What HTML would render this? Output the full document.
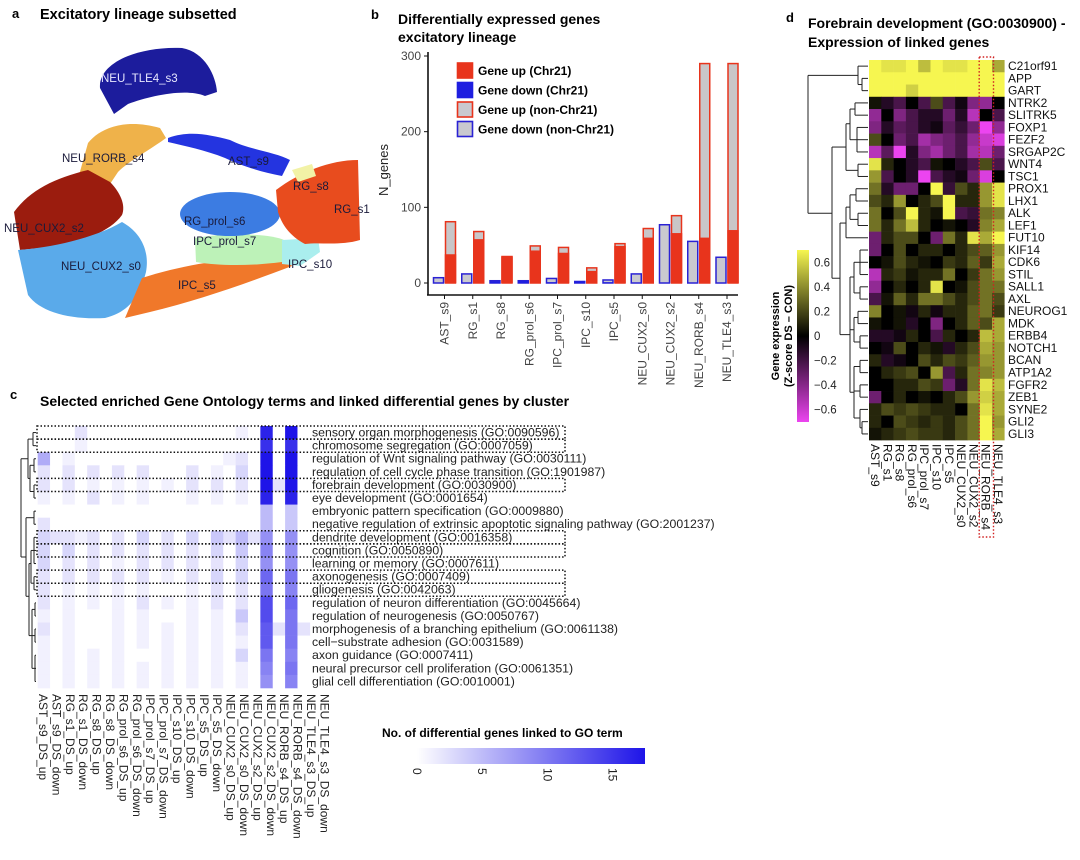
<!DOCTYPE html>
<html><head><meta charset="utf-8"><style>
html,body{margin:0;padding:0;background:#fff;}
svg{display:block;font-family:"Liberation Sans",sans-serif;}
</style></head><body>
<svg id="fig" width="1080" height="860" viewBox="0 0 1080 860">
<!-- Panel a -->
<g>
<text x="12" y="18" font-size="13" font-weight="bold">a</text>
<text x="40" y="19" font-size="14.5" font-weight="bold">Excitatory lineage subsetted</text>
<path d="M100,88 C98,62 140,46 182,48 C205,52 216,76 217,92 L205,96 C185,88 150,96 128,104 L114,114 Z" fill="#1c1c9c"/>
<path d="M88,143 C100,128 125,118 160,128 L166,138 C150,150 130,160 118,172 L102,196 L76,186 Z" fill="#efb24a"/>
<path d="M14,212 C30,190 55,178 88,170 L110,182 C120,192 126,205 122,215 C110,232 80,242 60,246 L20,250 Z" fill="#9b1c0e"/>
<path d="M18,250 C50,248 95,238 122,222 C140,232 150,250 146,272 C140,295 130,312 105,318 C70,320 40,312 28,295 Z" fill="#5aaaea"/>
<path d="M142,278 C190,262 250,256 285,255 L292,266 C250,282 200,300 150,312 L125,318 Z" fill="#f0782a"/>
<path d="M195,238 C230,232 270,234 284,240 L282,262 C250,266 220,266 196,262 Z" fill="#bdf2b8"/>
<path d="M282,240 L318,238 L320,252 L300,266 L282,264 Z" fill="#aaeeee"/>
<ellipse cx="230" cy="214" rx="50" ry="22" fill="#3c7ce2"/>
<path d="M276,190 C300,172 330,160 358,160 L360,240 C340,246 320,242 305,244 C290,236 282,225 278,212 Z" fill="#e84c1e"/>
<path d="M292,170 L312,164 L316,176 L298,182 Z" fill="#f2f2a6"/>
<path d="M168,138 C190,130 210,135 230,140 C250,150 275,152 290,160 L282,176 C260,172 240,165 225,158 C205,150 185,146 168,142 Z" fill="#2434e0"/>
<g font-size="11.5" fill="#1a1a3a">
<text x="101" y="82" fill="#e8e8ff">NEU_TLE4_s3</text>
<text x="62" y="162">NEU_RORB_s4</text>
<text x="228" y="165">AST_s9</text>
<text x="293" y="190">RG_s8</text>
<text x="334" y="213">RG_s1</text>
<text x="4" y="232">NEU_CUX2_s2</text>
<text x="184" y="225">RG_prol_s6</text>
<text x="193" y="245">IPC_prol_s7</text>
<text x="61" y="270">NEU_CUX2_s0</text>
<text x="288" y="268">IPC_s10</text>
<text x="178" y="289">IPC_s5</text>
</g>
</g>

<!-- Panel b -->
<g id="pb">
<text x="371" y="19" font-size="13" font-weight="bold">b</text>
<text x="398" y="24" font-size="14" font-weight="bold">Differentially expressed genes</text>
<text x="398" y="42" font-size="14" font-weight="bold">excitatory lineage</text>
<text transform="translate(388,170) rotate(-90)" text-anchor="middle" font-size="13" fill="#222">N_genes</text>
</g>

<!-- Panel c -->
<g id="pc">
<text x="10" y="399" font-size="13" font-weight="bold">c</text>
<text x="40" y="406" font-size="14" font-weight="bold">Selected enriched Gene Ontology terms and linked differential genes by cluster</text>
<text x="382" y="737" font-size="12" font-weight="bold">No. of differential genes linked to GO term</text>
<defs><linearGradient id="bg1" x1="0" x2="1"><stop offset="0" stop-color="#ffffff"/><stop offset="1" stop-color="#1e14e8"/></linearGradient></defs>
<rect x="417" y="748" width="228" height="16" fill="url(#bg1)"/>
</g>

<!-- Panel d -->
<g id="pd">
<text x="786" y="22" font-size="13" font-weight="bold">d</text>
<text x="808" y="28" font-size="14" font-weight="bold">Forebrain development (GO:0030900) -</text>
<text x="808" y="47" font-size="14" font-weight="bold">Expression of linked genes</text>
<defs><linearGradient id="dg" x1="0" x2="0" y1="0" y2="1"><stop offset="0" stop-color="#f6f650"/><stop offset="0.5" stop-color="#000000"/><stop offset="1" stop-color="#ec44f0"/></linearGradient></defs>
<rect x="797" y="250" width="12" height="172" fill="url(#dg)"/>
<text transform="translate(779,336) rotate(-90)" text-anchor="middle" font-size="11" font-weight="bold">Gene expression</text>
<text transform="translate(792,336) rotate(-90)" text-anchor="middle" font-size="11" font-weight="bold">(Z-score DS – CON)</text>
</g>
</svg>
<script>
const NS="http://www.w3.org/2000/svg";
function mk(parent,tag,attrs,txt){const e=document.createElementNS(NS,tag);for(const k in attrs)e.setAttribute(k,attrs[k]);if(txt!==undefined)e.textContent=txt;parent.appendChild(e);return e;}

// ---------- Panel b data ----------
const bCats=["AST_s9","RG_s1","RG_s8","RG_prol_s6","IPC_prol_s7","IPC_s10","IPC_s5","NEU_CUX2_s0","NEU_CUX2_s2","NEU_RORB_s4","NEU_TLE4_s3"];
const upChr21=[38,58,35,43,40,16,49,60,66,60,70];
const upTotal=[81,68,35,49,47,20,52,72,89,290,290];
const downChr21=[0,0,2,3,1,2,1,0,0,0,0];
const downTotal=[7,12,3,3,6,2,4,12,77,55,34];
const bTicks=[0,100,200,300];
const legendLabels=["Gene up (Chr21)","Gene down (Chr21)","Gene up (non-Chr21)","Gene down (non-Chr21)"];

// ---------- Panel c data ----------
const goTerms=["sensory organ morphogenesis (GO:0090596)","chromosome segregation (GO:0007059)","regulation of Wnt signaling pathway (GO:0030111)","regulation of cell cycle phase transition (GO:1901987)","forebrain development (GO:0030900)","eye development (GO:0001654)","embryonic pattern specification (GO:0009880)","negative regulation of extrinsic apoptotic signaling pathway (GO:2001237)","dendrite development (GO:0016358)","cognition (GO:0050890)","learning or memory (GO:0007611)","axonogenesis (GO:0007409)","gliogenesis (GO:0042063)","regulation of neuron differentiation (GO:0045664)","regulation of neurogenesis (GO:0050767)","morphogenesis of a branching epithelium (GO:0061138)","cell\u2212substrate adhesion (GO:0031589)","axon guidance (GO:0007411)","neural precursor cell proliferation (GO:0061351)","glial cell differentiation (GO:0010001)"];
const goCols=["AST_s9_DS_up","AST_s9_DS_down","RG_s1_DS_up","RG_s1_DS_down","RG_s8_DS_up","RG_s8_DS_down","RG_prol_s6_DS_up","RG_prol_s6_DS_down","IPC_prol_s7_DS_up","IPC_prol_s7_DS_down","IPC_s10_DS_up","IPC_s10_DS_down","IPC_s5_DS_up","IPC_s5_DS_down","NEU_CUX2_s0_DS_up","NEU_CUX2_s0_DS_down","NEU_CUX2_s2_DS_up","NEU_CUX2_s2_DS_down","NEU_RORB_s4_DS_up","NEU_RORB_s4_DS_down","NEU_TLE4_s3_DS_up","NEU_TLE4_s3_DS_down"];
const goCounts=[
[0,0,0,2,0,0,0,0,0,0,0,0,0,0,0,0,1,0,16,0,17,0],
[0,0,0,1,0,0,0,0,0,0,0,0,0,0,0,0,0,0,15,0,15,0],
[6,0,1,0,0,0,0,0,0,0,0,0,0,0,0,1,2,0,17,0,17,0],
[2,0,2,0,2,0,2,0,2,0,0,0,2,0,1,0,3,0,17,0,17,0],
[2,0,2,0,1,0,1,0,1,0,1,0,2,0,2,0,2,0,17,2,17,0],
[1,0,1,0,2,0,1,0,1,0,0,0,1,0,1,0,1,0,16,0,16,0],
[0,0,0,0,0,0,0,0,0,0,0,0,0,0,0,0,0,0,5,0,4,0],
[2,0,0,0,0,0,0,0,0,0,0,0,0,0,0,0,0,0,5,0,4,0],
[3,2,2,1,2,0,2,0,3,0,2,0,3,0,4,2,5,2,8,0,8,0],
[3,0,3,0,2,0,2,0,2,0,2,0,2,0,3,0,4,0,9,0,8,0],
[3,0,2,0,2,0,1,0,2,0,2,0,2,0,2,0,3,0,8,0,8,0],
[2,0,2,0,2,0,2,0,2,0,1,0,2,0,3,0,3,0,11,0,10,0],
[2,0,1,0,1,0,1,0,1,0,0,0,1,0,2,0,2,0,10,0,9,0],
[2,0,1,0,1,0,1,0,2,0,1,0,1,0,2,0,2,0,13,0,11,0],
[1,0,1,0,0,0,1,0,1,0,0,0,1,0,1,0,4,0,13,0,10,0],
[2,0,1,0,0,0,1,0,1,0,1,0,1,0,1,0,2,0,12,2,10,2],
[1,0,1,0,0,0,1,0,1,0,1,0,1,0,1,0,1,0,12,0,10,0],
[1,0,1,0,1,0,1,0,0,0,1,0,1,0,1,0,3,0,10,0,9,0],
[1,0,1,0,1,0,1,0,1,0,1,0,1,0,1,0,1,0,9,0,10,0],
[1,0,1,0,1,0,1,0,1,0,1,0,1,0,1,0,1,0,8,0,9,0]];
const boxedRows=[0,1,4,8,9,11,12];
const goLegendTicks=[0,5,10,15];

// ---------- Panel d data ----------
const dGenes=["C21orf91","APP","GART","NTRK2","SLITRK5","FOXP1","FEZF2","SRGAP2C","WNT4","TSC1","PROX1","LHX1","ALK","LEF1","FUT10","KIF14","CDK6","STIL","SALL1","AXL","NEUROG1","MDK","ERBB4","NOTCH1","BCAN","ATP1A2","FGFR2","ZEB1","SYNE2","GLI2","GLI3"];
const dCols=["AST_s9","RG_s1","RG_s8","RG_prol_s6","IPC_prol_s7","IPC_s10","IPC_s5","NEU_CUX2_s0","NEU_CUX2_s2","NEU_RORB_s4","NEU_TLE4_s3"];
const dZ=[
[0.65,0.6,0.6,0.65,0.5,0.65,0.6,0.6,0.65,0.7,0.45],
[0.7,0.7,0.7,0.7,0.7,0.7,0.7,0.7,0.7,0.7,0.7],
[0.7,0.7,0.7,0.55,0.7,0.7,0.7,0.7,0.7,0.7,0.7],
[0.05,-0.1,-0.2,0,-0.2,0.2,-0.2,-0.05,-0.35,-0.4,0],
[-0.4,0,-0.35,-0.2,-0.1,-0.1,-0.3,-0.1,-0.5,0,-0.2],
[-0.35,-0.1,-0.25,-0.2,-0.1,-0.05,-0.25,-0.15,-0.3,-0.65,-0.4],
[0.2,0,-0.3,-0.2,-0.45,-0.35,-0.3,-0.2,-0.4,-0.55,-0.6],
[-0.5,-0.25,-0.65,-0.1,-0.35,-0.45,-0.3,-0.2,-0.45,-0.5,-0.3],
[0.6,0.1,0,-0.1,-0.2,0.05,0,-0.1,-0.2,0.2,-0.2],
[0.4,-0.2,0,-0.1,-0.7,-0.2,-0.1,-0.05,-0.3,-0.6,0],
[0.3,-0.1,-0.3,-0.3,0,0.7,-0.15,0.2,0.1,0.4,0.6],
[0.2,0.1,0.4,0,0.1,0.2,0.7,0.1,0.1,0.4,0.6],
[0.3,0,0.2,0.7,0.1,0.05,0.7,-0.2,-0.15,0.3,0.35],
[0.3,0.1,0.3,0.5,0.1,0,0.05,0,-0.1,0.35,0.45],
[-0.3,0.1,0.2,0.2,0,-0.3,0.3,0.1,0.6,0.45,0.65],
[-0.3,0,0.2,0,0.1,0.1,0,0.1,0.2,0.25,0.4],
[0,0.05,0.2,0.1,0.05,0,0.15,0.1,0.25,0.15,0.45],
[-0.5,0.1,0.15,0.05,0.1,0.1,0.3,0,0.15,0.3,0.4],
[-0.4,0,0.1,0,0.1,0.6,0,0.05,0.2,0.3,0.3],
[-0.2,0.05,0.25,0.1,0.3,0.3,0.2,0.1,0.2,0.3,0.2],
[0.35,0,0.05,-0.05,0.1,-0.05,0.1,0.1,0.25,0.3,0.15],
[0.05,0,0.05,-0.1,0,-0.35,0,0.1,0.25,0.2,0.45],
[-0.1,-0.1,-0.05,0.1,0,-0.2,0.1,0,0.1,0.5,0.45],
[0,-0.05,0.2,0,0.1,0.05,-0.1,0.1,0.2,0.45,0.4],
[0.1,-0.1,-0.05,0,0.2,0.1,0.2,0.15,0.25,0.4,0.4],
[0,0.1,0.15,0.2,0,0.4,-0.2,0.1,0.3,0.35,0.4],
[0,0,0.1,0.1,0.2,0.15,-0.3,-0.1,0.3,0.6,0.5],
[-0.3,0,0.1,0,0.05,0,0.1,0.2,0.4,0.55,0.45],
[0.1,0.2,0.15,0.2,0.15,0.1,0.1,0,0.3,0.6,0.45],
[0.1,0,0.2,0.15,0.1,0.15,0.1,0.2,0.3,0.65,0.4],
[0.05,0.1,0.15,0.2,0.15,0.15,0.1,0.2,0.3,0.65,0.45]];
const dTicks=[0.6,0.4,0.2,0,-0.2,-0.4,-0.6];

// ===== Draw panel b =====
(function(){
const g=document.getElementById('pb');
const y0=283,yPer=227/300; const yS=v=>y0-v*yPer;
const cx0=444.5,step=28.25; const xS=i=>cx0+i*step;
const bw=10;
mk(g,'line',{x1:428,y1:52,x2:428,y2:295,stroke:'#111','stroke-width':1.6});
mk(g,'line',{x1:427,y1:295,x2:738,y2:295,stroke:'#111','stroke-width':1.6});
bTicks.forEach(t=>{
 const tk=mk(g,'line',{x1:424,x2:428,y1:yS(t),y2:yS(t),stroke:'#111'});
 
 
 const tl=mk(g,'text',{x:421,y:yS(t)+4,'text-anchor':'end','font-size':12,fill:'#444'},t);
 
 
});
bCats.forEach((c,i)=>{
 const cx=xS(i);
 const dT=mk(g,'rect',{x:cx-bw-1,y:yS(downTotal[i]),width:bw,height:Math.max(0.5,yS(0)-yS(downTotal[i])),fill:'#c9c9cf',stroke:'#2a22d4','stroke-width':1.5});
 
 
 if(downChr21[i]>0){const dc=mk(g,'rect',{x:cx-bw-1,y:yS(downChr21[i]),width:bw,height:yS(0)-yS(downChr21[i]),fill:'#1e1ee0'});
 
 }
 const uT=mk(g,'rect',{x:cx+1,y:yS(upTotal[i]),width:bw,height:yS(0)-yS(upTotal[i]),fill:'#c9c6c8',stroke:'#e8341c','stroke-width':1.5});
 
 
 const uc=mk(g,'rect',{x:cx+0.25,y:yS(upChr21[i]),width:bw+1.5,height:yS(0)-yS(upChr21[i]),fill:'#e8341c'});
 
 
 const tk=mk(g,'line',{x1:cx,x2:cx,y1:295,y2:299,stroke:'#111'});
 
 
 const lb=mk(g,'text',{transform:`translate(${cx+4},302) rotate(-90)`,'text-anchor':'end','font-size':12,fill:'#444'},c);
 
 
});
const lf=[['#e8341c','#e8341c'],['#1e1ee0','#1e1ee0'],['#c9c9cf','#e8341c'],['#c9c9cf','#2a22d4']];
legendLabels.forEach((l,i)=>{
 const y=63+i*19.5;
 const sw=mk(g,'rect',{x:457.5,y:y,width:15,height:15,fill:lf[i][0],stroke:lf[i][1],'stroke-width':1.6});
 
 
 const t=mk(g,'text',{x:478,y:y+12,'font-size':12,'font-weight':'bold'},l);
 
 
});
})();

// ===== Draw panel c =====
(function(){
const g=document.getElementById('pc');
const x0=37.7,cw=12.37,y0=426,rh=13.1,maxV=17;
const col=v=>{const t=Math.min(1,v/maxV);const r=Math.round(255+(30-255)*t),gg=Math.round(255+(20-255)*t),b=Math.round(255+(232-255)*t);return `rgb(${r},${gg},${b})`;};
goCounts.forEach((row,r)=>{
 row.forEach((v,c)=>{
  const cell=mk(g,'rect',{x:x0+c*cw,y:y0+r*rh,width:cw+0.3,height:rh+0.3,fill:col(v)});
  
  
 });
 const t=mk(g,'text',{x:312,y:y0+r*rh+10.5,'font-size':12.3,fill:'#222'},goTerms[r]);
 
 
});
boxedRows.forEach(r=>{
 const b=mk(g,'rect',{x:37,y:y0+r*rh,width:528,height:rh,fill:'none',stroke:'#111','stroke-width':1.5,'stroke-dasharray':'1.5,2'});
 
 
});
goCols.forEach((c,i)=>{
 const t=mk(g,'text',{transform:`translate(${39+i*13.4},694) rotate(90)`,'font-size':12,fill:'#222'},c);
 
 
});
goLegendTicks.forEach(v=>{
 const x=417+v/17.5*228;
 const t=mk(g,'text',{transform:`translate(${x-4},768) rotate(90)`,'font-size':12,fill:'#222'},v);
 
 
});
// dendrogram
const rc=r=>y0+r*rh+rh/2;
const segs=[[36,rc(0),33,rc(0)],[33,rc(0),33,rc(1)],[36,rc(1),33,rc(1)],
[36,rc(2),34,rc(2)],[34,rc(2),34,rc(3)],[36,rc(3),34,rc(3)],[36,rc(4),34,rc(4)],[34,rc(4),34,rc(5)],[36,rc(5),34,rc(5)],
[34,rc(2.5),30,rc(2.5)],[34,rc(4.5),30,rc(4.5)],[30,rc(2.5),30,rc(4.5)],[33,rc(0.5),28,rc(0.5)],[30,rc(3.5),28,rc(3.5)],[28,rc(0.5),28,rc(3.5)],
[36,rc(6),34,rc(6)],[34,rc(6),34,rc(7)],[36,rc(7),34,rc(7)],
[36,rc(8),34,rc(8)],[34,rc(8),34,rc(10)],[36,rc(10),34,rc(10)],[36,rc(9),34,rc(9)],
[36,rc(11),34,rc(11)],[34,rc(11),34,rc(12)],[36,rc(12),34,rc(12)],
[36,rc(13),35,rc(13)],[35,rc(13),35,rc(14)],[36,rc(14),35,rc(14)],
[36,rc(15),35,rc(15)],[35,rc(15),35,rc(16)],[36,rc(16),35,rc(16)],
[36,rc(17),35,rc(17)],[35,rc(17),35,rc(19)],[36,rc(19),35,rc(19)],[36,rc(18),35,rc(18)],
[34,rc(9),31,rc(9)],[34,rc(11.5),31,rc(11.5)],[31,rc(9),31,rc(11.5)],
[35,rc(13.5),32,rc(13.5)],[35,rc(15.5),32,rc(15.5)],[35,rc(18),32,rc(18)],[32,rc(13.5),32,rc(18)],
[31,rc(10),29,rc(10)],[32,rc(15.5),29,rc(15.5)],[29,rc(10),29,rc(15.5)],
[34,rc(6.5),26,rc(6.5)],[29,rc(12.5),26,rc(12.5)],[26,rc(6.5),26,rc(12.5)],
[28,rc(2),21,rc(2)],[26,rc(9.5),21,rc(9.5)],[21,rc(2),21,rc(9.5)]];
segs.forEach(s=>{const l=mk(g,'line',{x1:s[0],y1:s[1],x2:s[2],y2:s[3],stroke:'#222','stroke-width':1});

});
})();

// ===== Draw panel d =====
(function(){
const g=document.getElementById('pd');
const x0=869,cw=12.3,y0=60,rh=12.26;
const lerp=(a,b,t)=>Math.round(a+(b-a)*t);
const col=v=>{let t=Math.max(-1,Math.min(1,v/0.65));
 if(t>=0)return `rgb(${lerp(0,246,t)},${lerp(0,246,t)},${lerp(0,80,t)})`;
 t=-t;return `rgb(${lerp(0,236,t)},${lerp(0,68,t)},${lerp(0,240,t)})`;};
dZ.forEach((row,r)=>{
 row.forEach((v,c)=>{
  const cell=mk(g,'rect',{x:x0+c*cw,y:y0+r*rh,width:cw+0.3,height:rh+0.3,fill:col(v)});
  
  
 });
 const t=mk(g,'text',{x:1008,y:y0+r*rh+10,'font-size':12,fill:'#111'},dGenes[r]);
 
 
});
dCols.forEach((c,i)=>{
 const t=mk(g,'text',{transform:`translate(${x0+i*cw+2},444) rotate(90)`,'font-size':12,fill:'#111'},c);
 
 
});
const hb=mk(g,'rect',{x:x0+9*cw-0.5,y:57,width:cw+2,height:480,fill:'none',stroke:'#d02020','stroke-width':1.4,'stroke-dasharray':'1.5,2'});


dTicks.forEach(v=>{
 const y=336-v/0.7*86;
 const t=mk(g,'text',{x:814,y:y+4,'font-size':11.5,fill:'#222'},v===0?'0':(v<0?'\u2212'+Math.abs(v):v));
 
 
});
const rc=r=>y0+r*rh+rh/2;
const segs=[[868,rc(0),858,rc(0)],[868,rc(1),862,rc(1)],[868,rc(2),862,rc(2)],[862,rc(1),862,rc(2)],[862,rc(1.5),858,rc(1.5)],[858,rc(0),858,rc(1.5)],[858,rc(0.75),808,rc(0.75)],
[868,rc(3),855,rc(3)],[868,rc(4),855,rc(4)],[855,rc(3),855,rc(4)],[868,rc(5),857,rc(5)],[868,rc(6),857,rc(6)],[857,rc(5),857,rc(7)],[868,rc(7),857,rc(7)],
[855,rc(3.5),850,rc(3.5)],[857,rc(6),850,rc(6)],[850,rc(3.5),850,rc(6)],[868,rc(8),858,rc(8)],[868,rc(9),858,rc(9)],[858,rc(8),858,rc(9)],
[858,rc(8.5),846,rc(8.5)],[850,rc(4.7),846,rc(4.7)],[846,rc(4.7),846,rc(8.5)],
[868,rc(10),856,rc(10)],[868,rc(11),856,rc(11)],[856,rc(10),856,rc(11)],[868,rc(12),858,rc(12)],[868,rc(13),858,rc(13)],[858,rc(12),858,rc(13)],[868,rc(14),852,rc(14)],
[856,rc(10.5),850,rc(10.5)],[858,rc(12.5),850,rc(12.5)],[850,rc(10.5),850,rc(12.5)],[850,rc(11.5),846,rc(11.5)],[852,rc(14),846,rc(14)],[846,rc(11.5),846,rc(14)],
[868,rc(15),860,rc(15)],[868,rc(16),860,rc(16)],[860,rc(15),860,rc(17)],[868,rc(17),860,rc(17)],[868,rc(18),860,rc(18)],[868,rc(19),860,rc(19)],[860,rc(18),860,rc(19)],
[868,rc(20),858,rc(20)],[868,rc(21),858,rc(21)],[858,rc(20),858,rc(21)],[868,rc(22),860,rc(22)],[868,rc(23),860,rc(23)],[860,rc(22),860,rc(23)],
[868,rc(24),860,rc(24)],[868,rc(25),860,rc(25)],[860,rc(24),860,rc(25)],[868,rc(26),860,rc(26)],[868,rc(27),860,rc(27)],[860,rc(26),860,rc(27)],
[868,rc(28),860,rc(28)],[868,rc(29),862,rc(29)],[868,rc(30),862,rc(30)],[862,rc(29),862,rc(30)],[862,rc(29.5),860,rc(29.5)],[860,rc(28),860,rc(29.5)],
[860,rc(16),854,rc(16)],[860,rc(18.5),854,rc(18.5)],[854,rc(16),854,rc(18.5)],[858,rc(20.5),854,rc(20.5)],[860,rc(22.5),854,rc(22.5)],[854,rc(20.5),854,rc(22.5)],
[860,rc(24.5),854,rc(24.5)],[860,rc(26.5),854,rc(26.5)],[860,rc(28.7),854,rc(28.7)],[854,rc(24.5),854,rc(28.7)],
[854,rc(17.2),850,rc(17.2)],[854,rc(21.5),850,rc(21.5)],[854,rc(26.6),850,rc(26.6)],[850,rc(17.2),850,rc(26.6)],
[846,rc(12.8),840,rc(12.8)],[850,rc(21.9),840,rc(21.9)],[840,rc(12.8),840,rc(21.9)],
[846,rc(6.6),832,rc(6.6)],[840,rc(17.3),832,rc(17.3)],[832,rc(6.6),832,rc(17.3)],
[832,rc(12),808,rc(12)],[808,rc(0.75),808,rc(12)]];
segs.forEach(s=>{const l=mk(g,'line',{x1:s[0],y1:s[1],x2:s[2],y2:s[3],stroke:'#222','stroke-width':1});

});
})();
</script>
</body></html>
